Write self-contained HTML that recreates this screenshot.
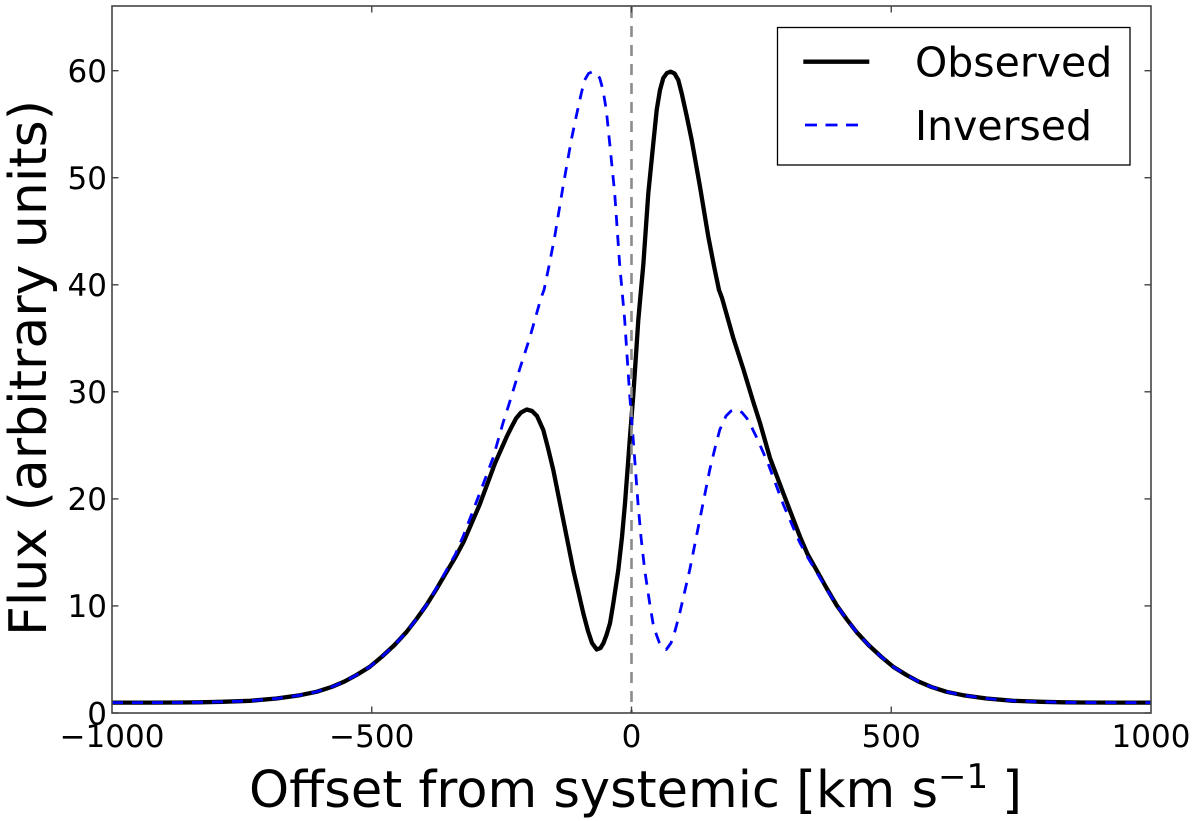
<!DOCTYPE html>
<html>
<head>
<meta charset="utf-8">
<style>
html,body{margin:0;padding:0;background:#fff;}
svg{display:block;}
text{font-family:"DejaVu Sans","Liberation Sans",sans-serif;fill:#000;}
</style>
</head>
<body>
<svg width="1200" height="821" viewBox="0 0 1200 821" xmlns="http://www.w3.org/2000/svg">
<rect x="0" y="0" width="1200" height="821" fill="#fff"/>

<!-- Observed -->
<polyline fill="none" stroke="#000" stroke-width="4.3" stroke-linejoin="round" stroke-linecap="butt"
points="112,702.6 150,702.6 181.5,702.5 200,702.3 221.5,701.8 250,700.8 276.5,698.5 300,695.2 316.5,691.8 331.5,687 344.5,681.5 356.5,675 369.5,667 381.5,657 394.5,645 406.5,632 416.5,619 426.5,605 436.5,589 446.5,572 455.5,557 463.5,542 479.5,505 495,463.3 506.7,436.7 511,428 516,418.5 521,412.5 526.7,409.5 532,411 537,416 543.3,430 548,448 553.3,470 563.3,520 573.3,570 583.3,613.3 588,631 592,643 596.7,649.5 600.5,648 603.5,643 606.5,635 610,623.3 613.3,603.3 618.3,570 622,537 625,503.3 627.5,470 630,436.7 633.3,395 636,355 638.3,320 641,290 643.3,265 648.3,193.3 653.3,143.3 656.7,110 660,90 663.3,78 667,73 670.7,71.7 674.5,73.5 678.3,80 681.7,93.3 686.7,116 691.7,140 700,186.7 708.3,236.7 714,266 719,290 722,298 733.3,338 743.3,369 753.3,402 760,423 770,458 783.3,493.3 800,536.7 807.5,554 816.5,570 826.5,588 836.5,605 846.5,619 856.5,632 868.5,645 881.5,657 893.5,667 906.5,675 918.5,681.5 931.5,687 946.5,691.8 963,695.2 986.5,698.5 1013,700.8 1041.5,701.8 1063,702.3 1081.5,702.5 1113,702.6 1151,702.6"/>

<!-- Inversed -->
<polyline fill="none" stroke="#0000ff" stroke-width="2.8" stroke-dasharray="11 9" stroke-linejoin="round" stroke-linecap="butt"
points="112,702.6 150,702.6 181.5,702.5 200,702.3 221.5,701.8 250,700.8 276.5,698.5 300,695.2 316.5,691.8 331.5,687 344.5,681.5 356.5,675 369.5,667 381.5,657 394.5,645 406.5,632 416.5,619 426.5,605 436.5,588 446.5,570 455.5,554 463,536.7 479.7,493.3 493,458 503,423 509.7,402 519.7,369 529.7,338 541,298 544,290 549,266 554.7,236.7 563,186.7 571.3,140 576.3,116 581.3,93.3 584.7,80 588.5,73.5 592.3,71.7 596,73 599.7,78 603,90 606.3,110 609.7,143.3 614.7,193.3 619.7,265 622,290 624.7,320 627,355 629.7,395 633,436.7 635.5,470 638,503.3 641,537 644.7,570 649.7,603.3 653,623.3 656.5,635 659.5,643 662.5,648 666.3,649.5 671,643 675,631 679.7,613.3 689.7,570 699.7,520 709.7,470 715,448 719.7,430 726,416 731,411 736.3,409.5 742,412.5 747,418.5 752,428 756.3,436.7 768,463.3 783.5,505 799.5,542 807.5,557 816.5,572 826.5,589 836.5,605 846.5,619 856.5,632 868.5,645 881.5,657 893.5,667 906.5,675 918.5,681.5 931.5,687 946.5,691.8 963,695.2 986.5,698.5 1013,700.8 1041.5,701.8 1063,702.3 1081.5,702.5 1113,702.6 1151,702.6"/>

<!-- vertical systemic line -->
<line x1="631.5" y1="7" x2="631.5" y2="713" stroke="#8c8c8c" stroke-width="2.6" stroke-dasharray="11 8"/>

<!-- axes frame -->
<rect x="112" y="6" width="1039" height="707" fill="none" stroke="#444" stroke-width="1.6"/>

<!-- y ticks -->
<g stroke="#444" stroke-width="1.4">
<line x1="112" y1="713" x2="118.5" y2="713"/><line x1="1151" y1="713" x2="1144.5" y2="713"/>
<line x1="112" y1="605.9" x2="118.5" y2="605.9"/><line x1="1151" y1="605.9" x2="1144.5" y2="605.9"/>
<line x1="112" y1="498.9" x2="118.5" y2="498.9"/><line x1="1151" y1="498.9" x2="1144.5" y2="498.9"/>
<line x1="112" y1="391.8" x2="118.5" y2="391.8"/><line x1="1151" y1="391.8" x2="1144.5" y2="391.8"/>
<line x1="112" y1="284.8" x2="118.5" y2="284.8"/><line x1="1151" y1="284.8" x2="1144.5" y2="284.8"/>
<line x1="112" y1="177.7" x2="118.5" y2="177.7"/><line x1="1151" y1="177.7" x2="1144.5" y2="177.7"/>
<line x1="112" y1="70.7" x2="118.5" y2="70.7"/><line x1="1151" y1="70.7" x2="1144.5" y2="70.7"/>
<!-- x ticks -->
<line x1="371.75" y1="713" x2="371.75" y2="706.5"/><line x1="371.75" y1="6" x2="371.75" y2="12.5"/>
<line x1="631.5" y1="713" x2="631.5" y2="706.5"/><line x1="631.5" y1="6" x2="631.5" y2="12.5"/>
<line x1="891.25" y1="713" x2="891.25" y2="706.5"/><line x1="891.25" y1="6" x2="891.25" y2="12.5"/>
</g>

<!-- y tick labels -->
<g font-size="31" text-anchor="end">
<text x="107" y="724.3">0</text>
<text x="107" y="617.2">10</text>
<text x="107" y="510.2">20</text>
<text x="107" y="403.1">30</text>
<text x="107" y="296.1">40</text>
<text x="107" y="189">50</text>
<text x="107" y="82">60</text>
</g>

<!-- x tick labels -->
<g font-size="31" text-anchor="middle">
<text x="112" y="747">−1000</text>
<text x="371.75" y="747">−500</text>
<text x="631.5" y="747">0</text>
<text x="891.25" y="747">500</text>
<text x="1151" y="747">1000</text>
</g>

<!-- axis labels -->
<text x="249" y="807" font-size="51">Offset from systemic [km s<tspan dy="-19" font-size="34">−1</tspan><tspan dy="19" dx="14">]</tspan></text>
<text transform="translate(46,368) rotate(-90)" font-size="52" text-anchor="middle">Flux (arbitrary units)</text>

<!-- legend -->
<rect x="777.5" y="27.5" width="352.5" height="137.5" fill="#fff" stroke="#000" stroke-width="1.3"/>
<line x1="803.3" y1="61.7" x2="869.3" y2="61.7" stroke="#000" stroke-width="4.3"/>
<line x1="805" y1="125" x2="858.5" y2="125" stroke="#0000ff" stroke-width="2.8" stroke-dasharray="12 8.5"/>
<text x="915" y="76.7" font-size="41">Observed</text>
<text x="915" y="140" font-size="41">Inversed</text>
</svg>
</body>
</html>
